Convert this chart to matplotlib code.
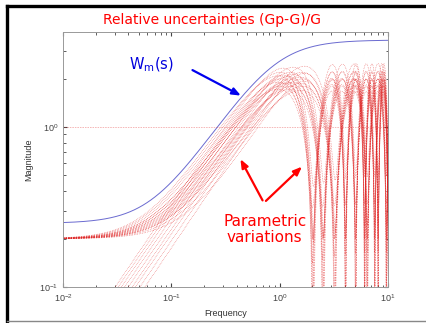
import numpy as np
import matplotlib
matplotlib.use("Agg")
import matplotlib.pyplot as plt
from matplotlib.lines import Line2D

# --- data ---
# weight Wm(s) = (T s + r0) / ((T / r_inf) s + 1)
wm_T, wm_r0, wm_rinf = 3.8, 0.25, 3.5

# nominal lag and the plant variations (gain ratio, extra delay, lag)
tau_nom = 1.0
gain_ratio = [0.8, 1.0, 1.2]
delay_shift = [1.95, 2.5, 3.1]
lag_values = [0.8, 1.0, 1.2]

freq = np.logspace(-2, 1, 3000)
s = 1j * freq

fig = plt.figure(figsize=(4.27, 3.23), dpi=100)
ax = fig.add_axes([0.1475, 0.1115, 0.7612, 0.7895])

# relative errors (Gp - G)/G for every combination
for r in gain_ratio:
    for d in delay_shift:
        for tp in lag_values:
            rel = r * (tau_nom * s + 1) / (tp * s + 1) * np.exp(-d * s) - 1
            ax.plot(freq, np.abs(rel), color="#e02020", ls=":", lw=0.45, alpha=0.75)

wm = (wm_T * s + wm_r0) / ((wm_T / wm_rinf) * s + 1)
ax.plot(freq, np.abs(wm), color="#6a6ad0", lw=0.7)
ax.axhline(1.0, color="#e02020", ls=":", lw=0.45, alpha=0.8)

ax.set_xscale("log")
ax.set_yscale("log")
ax.set_xlim(1e-2, 1e1)
ax.set_ylim(1e-1, 3.93)
ax.tick_params(which="both", direction="in", top=True, right=True,
               labelsize=6.5, colors="#444444", length=3)
ax.tick_params(which="minor", length=1.8)
for lab in ax.get_xticklabels() + ax.get_yticklabels():
    lab.set_family("Liberation Sans")
for sp in ax.spines.values():
    sp.set_color("#999999")
    sp.set_linewidth(0.7)
ax.set_xlabel("Frequency", fontsize=6.5, color="#333333", labelpad=4,
              family="Liberation Sans")
ax.set_ylabel("Magnitude", fontsize=6.5, color="#333333",
              family="Liberation Sans")
ax.yaxis.set_label_coords(-0.09, 0.5)

fig.text(0.497, 0.938, "Relative uncertainties (Gp-G)/G", color="red",
         fontsize=10, ha="center", va="center")

# annotations
fig.text(0.355, 0.80, r"W$_{\mathregular{m}}$(s)", color="#0000dd",
         fontsize=10.5, ha="center", va="center")
ax.annotate("", xy=(0.57, 0.70), xycoords="figure fraction",
            xytext=(0.445, 0.787), textcoords="figure fraction",
            arrowprops=dict(arrowstyle="-|>,head_length=0.5,head_width=0.2",
                            color="#0000ee", lw=1.6))
fig.text(0.62, 0.29, "Parametric\nvariations", color="red", fontsize=11,
         ha="center", va="center", linespacing=1.05)
for tip in [(0.56, 0.515), (0.712, 0.49)]:
    ax.annotate("", xy=tip, xycoords="figure fraction",
                xytext=(0.618, 0.372), textcoords="figure fraction",
                arrowprops=dict(arrowstyle="-|>,head_length=0.5,head_width=0.2",
                                color="red", lw=1.6))

# slide frame
fig.add_artist(Line2D([0.017, 1.0], [0.981, 0.981], color="black", lw=2.4))
fig.add_artist(Line2D([0.017, 0.017], [0.0, 0.981], color="black", lw=2.4))
fig.add_artist(Line2D([0.017, 1.0], [0.006, 0.006], color="#888888", lw=1.0))

fig.savefig("out.png", dpi=100)
